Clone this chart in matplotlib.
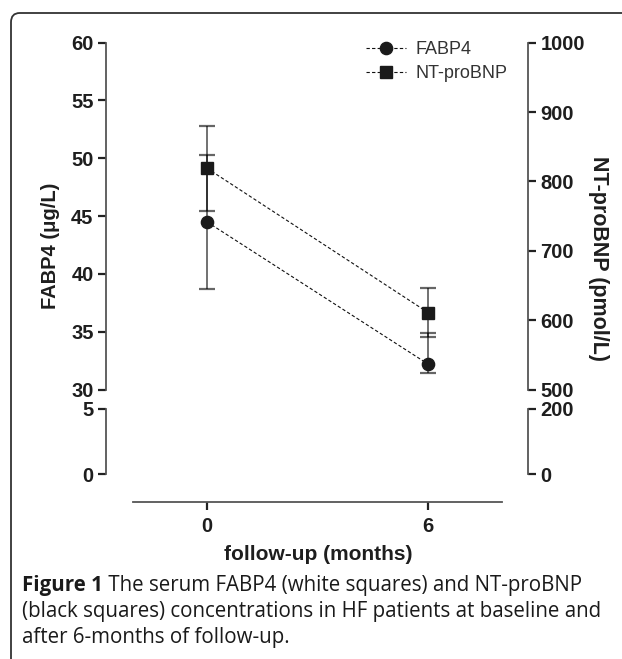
import matplotlib
matplotlib.use("Agg")
import matplotlib.pyplot as plt
from matplotlib.font_manager import FontProperties
from matplotlib.patches import FancyBboxPatch

# ----------------------------
# Data
# ----------------------------
months = [0, 6]
fabp4 = [44.5, 32.2]            # ug/L
fabp4_err_lo = [5.8, 0.8]
fabp4_err_hi = [5.8, 2.7]
ntprobnp = [819, 611]           # pmol/L
ntprobnp_err = [61, 35]

left_ticks_top = [30, 35, 40, 45, 50, 55, 60]
left_ticks_bot = [0, 5]
right_ticks_top = [500, 600, 700, 800, 900, 1000]
right_ticks_bot = [0, 200]

caption_bold = "Figure 1"
caption_rest = [
    " The serum FABP4 (white squares) and NT-proBNP",
    "(black squares) concentrations in HF patients at baseline and",
    "after 6-months of follow-up.",
]

W, H = 622, 659
fig = plt.figure(figsize=(W / 100, H / 100), dpi=100)


def box(x0, y_top, x1, y_bot):
    # pixel box (from top-left) -> figure fraction rect
    return [x0 / W, 1 - y_bot / H, (x1 - x0) / W, (y_bot - y_top) / H]


TICK_FONT = FontProperties(family="Liberation Sans", weight="bold", size=14.5)
SPINE_C = "#555555"
TICK_C = "#222222"
TEXT_C = "#1e1e1e"

# x mapping: 0 -> 207 px, 6 -> 428 px
px_per_month = (428 - 207) / 6
xlim = ((106 - 207) / px_per_month, (528 - 207) / px_per_month)

ax_top = fig.add_axes(box(106, 42.7, 528, 389.5))
ax_bot = fig.add_axes(box(106, 409, 528, 501.5))
ax_top_r = ax_top.twinx()
ax_bot_r = ax_bot.twinx()

ax_top.set_ylim(30, 60)
ax_top_r.set_ylim(500, 1000)
bot_lo = -(501.5 - 474.3) / ((474.3 - 409) / 5)
ax_bot.set_ylim(bot_lo, 5)
ax_bot_r.set_ylim(bot_lo * 40, 200)

for a in (ax_top, ax_bot, ax_top_r, ax_bot_r):
    a.set_xlim(*xlim)
    a.patch.set_visible(False)
    for s in a.spines.values():
        s.set_visible(False)
    a.tick_params(axis="both", length=6, width=1.6, color=TICK_C, pad=3)

# left / right spines (broken axis)
ax_top.spines["left"].set_bounds(30, 60)
ax_bot.spines["left"].set_bounds(0, 5)
ax_top_r.spines["right"].set_bounds(500, 1000)
ax_bot_r.spines["right"].set_bounds(0, 200)
ax_bot.spines["bottom"].set_bounds(-2, 8)
for a, side in ((ax_top, "left"), (ax_bot, "left"), (ax_top_r, "right"),
                (ax_bot_r, "right"), (ax_bot, "bottom")):
    a.spines[side].set_visible(True)
    a.spines[side].set_color(SPINE_C)
    a.spines[side].set_linewidth(1.3)

ax_top.set_yticks(left_ticks_top)
ax_bot.set_yticks(left_ticks_bot)
ax_top_r.set_yticks(right_ticks_top)
ax_bot_r.set_yticks(right_ticks_bot)
ax_top.set_xticks([])
ax_top_r.set_xticks([])
ax_bot_r.set_xticks([])
ax_bot.set_xticks(months)
ax_bot.set_xticklabels([str(m) for m in months])
ax_bot.tick_params(axis="x", pad=5)

for a in (ax_top, ax_bot, ax_top_r, ax_bot_r):
    for lab in a.get_yticklabels() + a.get_xticklabels():
        lab.set_fontproperties(TICK_FONT)
        lab.set_color(TEXT_C)

# ----------------------------
# Series
# ----------------------------
ecol = (0, 0, 0, 0.6)
ax_top.errorbar(months, fabp4, yerr=[fabp4_err_lo, fabp4_err_hi], fmt="none",
                ecolor=ecol, elinewidth=1.3, capsize=5.5, capthick=1.6, zorder=2)
ax_top_r.errorbar(months, ntprobnp, yerr=ntprobnp_err, fmt="none",
                  ecolor=ecol, elinewidth=1.3, capsize=5.5, capthick=1.6, zorder=2)

l1, = ax_top.plot(months, fabp4, ls=(0, (3, 2)), lw=0.8, color="#111111",
                  marker="o", ms=8.8, mfc="#1a1a1a", mec="#1a1a1a", zorder=3)
l2, = ax_top_r.plot(months, ntprobnp, ls=(0, (3, 2)), lw=0.8, color="#111111",
                    marker="s", ms=8.2, mfc="#1a1a1a", mec="#1a1a1a", zorder=3)

leg = fig.legend([l1, l2], ["FABP4", "NT-proBNP"], loc="upper left",
                 bbox_to_anchor=(350 / W, 1 - 25 / H), frameon=False,
                 numpoints=1, handlelength=2.2, handletextpad=0.55,
                 labelspacing=0.4, prop=dict(family="Liberation Sans", size=13))
for t in leg.get_texts():
    t.set_color("#333333")

# ----------------------------
# Axis labels
# ----------------------------
fig.text(50 / W, 1 - 246 / H, "FABP4 (\u03bcg/L)", rotation=90, ha="center",
         va="center", family="Liberation Sans", weight="bold", size=14.5,
         color=TEXT_C)
fig.text(599 / W, 1 - 258 / H, "NT-proBNP (pmol/L)", rotation=-90,
         ha="center", va="center", family="Liberation Sans", weight="bold",
         size=15.5, color=TEXT_C)
fig.text(318 / W, 1 - 555 / H, "follow-up (months)", ha="center", va="center",
         family="Liberation Sans", weight="bold", size=15, color=TEXT_C)

# ----------------------------
# Caption and frame
# ----------------------------
cap_font = dict(family="Open Sans", size=14.8, color="#1a1a1a")
t = fig.text(22 / W, 1 - 586 / H, caption_bold, ha="left", va="center",
             weight="bold", **cap_font)
fig.canvas.draw()
bb = t.get_window_extent()
fig.text(bb.x1 / W, 1 - 586 / H, caption_rest[0], ha="left", va="center", **cap_font)
fig.text(22 / W, 1 - 612 / H, caption_rest[1], ha="left", va="center", **cap_font)
fig.text(22 / W, 1 - 638 / H, caption_rest[2], ha="left", va="center", **cap_font)

frame = FancyBboxPatch((11 / W, -0.2), 2.0, 1 - 13 / H + 0.2,
                       boxstyle="round,pad=0,rounding_size=0.014",
                       transform=fig.transFigure, fill=False,
                       ec="#333333", lw=1.3, clip_on=False)
fig.patches.append(frame)

fig.savefig("out.png", dpi=100)
